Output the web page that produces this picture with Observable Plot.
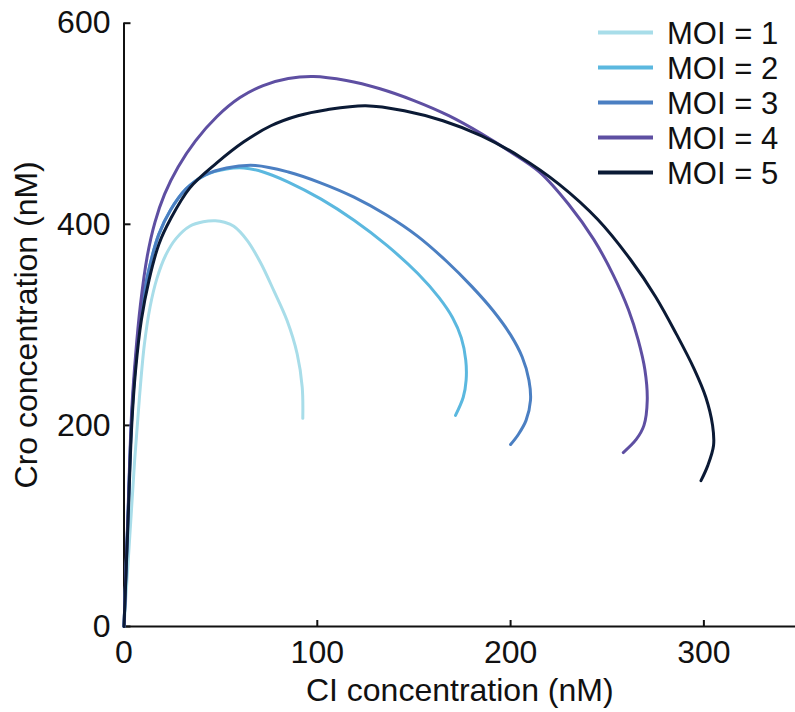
<!DOCTYPE html>
<html>
<head>
<meta charset="utf-8">
<script src="https://cdn.jsdelivr.net/npm/d3@7"></script>
<script src="https://cdn.jsdelivr.net/npm/@observablehq/plot@0.6"></script>
<style>
  html, body { margin: 0; padding: 0; background: #fff; }
  #wrap { position: relative; width: 795px; height: 712px; font-family: "Liberation Sans", Arial, sans-serif; }
  #legend { position: absolute; left: 0; top: 0; }
</style>
</head>
<body>
<div id="wrap"><div id="chart"></div><svg id="legend" width="795" height="200"></svg></div>
<script>
// ---- data ----
const seriesNames = ["MOI = 1", "MOI = 2", "MOI = 3", "MOI = 4", "MOI = 5"];
const seriesColors = ["#a8dde9", "#5bb8df", "#4b7fc2", "#5e4fa2", "#0b1a35"];
const xTicks = [0, 100, 200, 300];
const yTicks = [0, 200, 400, 600];
const xLabel = "CI concentration (nM)";
const yLabel = "Cro concentration (nM)";

// [CI, Cro] pairs
const moi1 = [[0,0],[3,90],[5.5,165],[8,228],[10.5,280],[13.5,318],[17,346],[21.5,369],[27,386],[34,398],[41,402.5],[47.3,403.5],[52,402],[56.8,398],[63.7,384],[70.6,362],[77.5,334],[84.4,304],[89.6,271],[92.2,238],[92.5,207]];
const moi2 = [[0,0],[2,105],[4,208],[6,262],[9,315],[13,356],[18,390],[24,414],[32,435],[42,449],[53,455],[62,456],[72,452],[85,442],[102,425],[119,404],[136,379],[152,351],[163,327],[170,307],[174.5,287],[176.8,265],[177,245],[175.5,228],[171.5,210]];
const moi3 = [[0,0],[2,105],[4,208],[6,262],[9,315],[13,356],[18,390],[24,414],[32,435],[42,449],[53,456],[68,458.5],[85,452],[102,441],[119,427],[136,409],[152,388],[167,363],[180,338],[191,314],[200,290],[206,268],[209.5,245],[210.3,225],[208,205],[204,191],[200,181]];
const moi4 = [[0,0],[2,110],[4,215],[6,270],[8.5,320],[12,368],[16,402],[21,430],[28,457],[37,483],[48,507],[60,526],[72,538],[85,545],[98,547],[115,543],[132,535],[150,523],[168,508],[185,490],[200,472],[215,452],[230,420],[243,385],[253,350],[261,315],[266,285],[269.5,255],[270.7,225],[269,200],[265,186],[258.3,173]];
const moi5 = [[0,0],[2,100],[4,200],[6,255],[9,305],[13,345],[18,380],[24,405],[34,436],[48,461],[62,482],[76,498],[90,508],[105,514],[125,518],[145,513],[165,503],[185,488],[205,467],[225,440],[245,405],[262,365],[275,328],[286,290],[295,256],[301,228],[304.5,200],[305,180],[302,160],[298.5,145]];

const allSeries = [moi1, moi2, moi3, moi4, moi5];
const rows = allSeries.flatMap((pts, i) => pts.map(([x, y]) => ({series: seriesNames[i], x, y})));

const plot = Plot.plot({
  width: 795,
  height: 712,
  marginLeft: 123.5,
  marginRight: 0,
  marginTop: 22.7,
  marginBottom: 86,
  style: {fontFamily: "'Liberation Sans', Arial, sans-serif", fontSize: "32px", color: "#111", background: "#fff"},
  x: {domain: [0, 347.4]},
  y: {domain: [0, 600]},
  color: {domain: seriesNames, range: seriesColors},
  marks: [
    Plot.axisX({ticks: xTicks, tickSize: -6, tickPadding: 20, tickFormat: d => String(d), label: null, strokeWidth: 2, fontSize: 32}),
    Plot.axisY({ticks: yTicks, tickSize: -7, tickPadding: 20.5, tickFormat: d => String(d), label: null, strokeWidth: 2, fontSize: 32}),
    Plot.ruleX([0], {strokeWidth: 2, stroke: "#111"}),
    Plot.ruleY([0], {strokeWidth: 2, stroke: "#111"}),
    Plot.line(rows, {x: "x", y: "y", z: "series", stroke: "series", strokeWidth: 3, curve: "catmull-rom"}),
    Plot.text([xLabel], {frameAnchor: "bottom", dy: 74, fontSize: 32, fill: "#111", textAnchor: "middle"}),
    Plot.text([yLabel], {frameAnchor: "left", dx: -97, rotate: -90, fontSize: 32, fill: "#111", textAnchor: "middle"})
  ]
});
document.getElementById("chart").appendChild(plot);

// legend overlay (top right, inside the plot area)
const leg = d3.select("#legend");
const g = leg.selectAll("g").data(seriesNames).join("g")
  .attr("transform", (d, i) => `translate(598, ${32.5 + i * 35})`);
g.append("line").attr("x1", 0).attr("x2", 55).attr("y1", 0).attr("y2", 0)
  .attr("stroke", (d, i) => seriesColors[i]).attr("stroke-width", 4);
g.append("text").attr("x", 69).attr("y", 0).attr("dy", "0.36em")
  .attr("font-family", "'Liberation Sans', Arial, sans-serif").attr("font-size", 31).attr("fill", "#111")
  .text(d => d);
</script>
</body>
</html>
